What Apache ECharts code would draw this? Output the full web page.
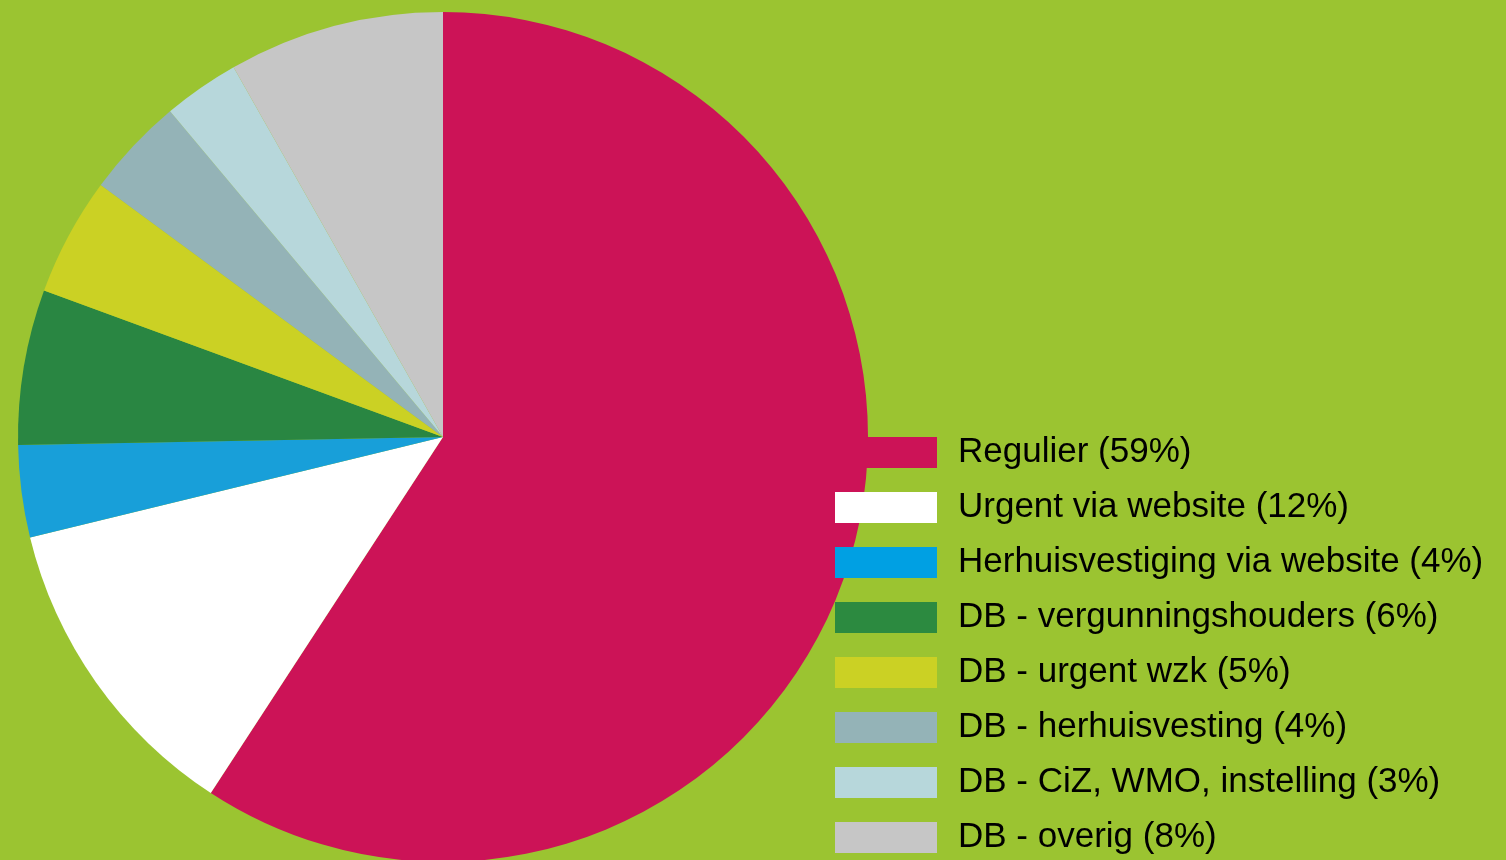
<!DOCTYPE html>
<html>
<head>
<meta charset="utf-8">
<script src="https://cdn.jsdelivr.net/npm/echarts@6/dist/echarts.min.js"></script>
<style>
html,body{margin:0;padding:0;background:#9bc431;}
#chart{width:1506px;height:860px;}
</style>
</head>
<body>
<div id="chart"></div>
<script>
var categories = [
  "Regulier (59%)",
  "Urgent via website (12%)",
  "Herhuisvestiging via website (4%)",
  "DB - vergunningshouders (6%)",
  "DB - urgent wzk (5%)",
  "DB - herhuisvesting (4%)",
  "DB - CiZ, WMO, instelling (3%)",
  "DB - overig (8%)"
];
var values = [59.2, 12.0, 3.5, 5.9, 4.5, 3.8, 2.9, 8.2];
var colors = ["#cc1357", "#ffffff", "#189fd9", "#298642", "#cbd124", "#94b3b7", "#b7d7db", "#c6c6c6"];
var legendColors = ["#cc1357", "#ffffff", "#00a0e3", "#2c8a40", "#cbd124", "#94b3b7", "#b7d7db", "#c6c6c6"];

var chart = echarts.init(document.getElementById('chart'));
chart.setOption({
  backgroundColor: '#9bc431',
  animation: false,
  color: colors,
  legend: {
    type: 'plain',
    orient: 'vertical',
    left: 835,
    top: 435,
    height: 600,
    padding: 0,
    itemWidth: 102,
    itemHeight: 31,
    itemGap: 20,
    icon: 'rect',
    data: categories.map(function (c, i) {
      return { name: c, itemStyle: { color: legendColors[i] } };
    }),
    textStyle: {
      fontFamily: '"Liberation Sans", Arial, sans-serif',
      fontSize: 35,
      color: '#000000',
      padding: [0, 0, 0, 16]
    }
  },
  series: [{
    type: 'pie',
    center: [443, 437],
    radius: 425,
    startAngle: 90,
    clockwise: true,
    label: { show: false },
    labelLine: { show: false },
    emphasis: { disabled: true },
    itemStyle: { borderWidth: 0 },
    data: categories.map(function (c, i) { return { name: c, value: values[i] }; })
  }]
});
</script>
</body>
</html>
